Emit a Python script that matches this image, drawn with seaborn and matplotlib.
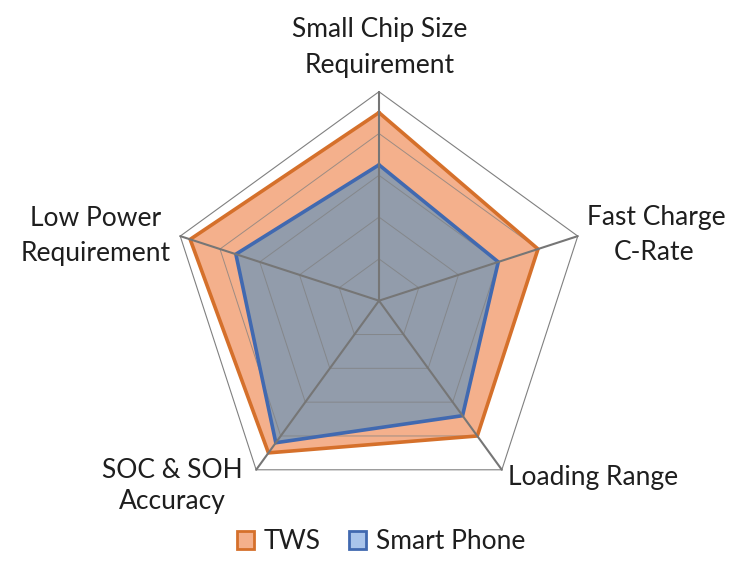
import numpy as np
import matplotlib
matplotlib.use("Agg")
import matplotlib.pyplot as plt
from matplotlib.patches import Patch
import seaborn as sns

sns.set_theme(style="white")
plt.rcParams["font.family"] = ["Lato", "DejaVu Sans"]

# data
categories = ["Small Chip Size\nRequirement", "Fast Charge\nC-Rate", "Loading Range",
              "SOC & SOH\nAccuracy", "Low Power\nRequirement"]
tws = [4.5, 4.0, 4.0, 4.5, 4.75]
smart_phone = [3.25, 3.0, 3.4, 4.2, 3.6]
ring_levels = [1, 2, 3, 4, 5]

TWS_LINE = "#D5702B"
TWS_FILL = "#F4B08C"
SP_LINE = "#4169B0"
SP_FILL = "#929CAB"
GRID = "#808080"
TEXT = "#1E1E1E"

angles = np.deg2rad(90 - 72 * np.arange(len(categories)))


def to_xy(vals):
    r = np.asarray(vals, dtype=float)
    x = r * np.cos(angles)
    y = r * np.sin(angles)
    return np.append(x, x[0]), np.append(y, y[0])


# pixel layout: centre (379, 300.7), 41.8 px per unit
PX = 41.8
CX, CY = 379, 300.7
W, H = 744, 573

fig = plt.figure(figsize=(W / 100, H / 100), dpi=100)
ax = fig.add_axes([0, 0, 1, 1])
ax.set_xlim(-CX / PX, (W - CX) / PX)
ax.set_ylim(-(H - CY) / PX, CY / PX)
ax.axis("off")


def px(x, y):
    return (x - CX) / PX, (CY - y) / PX


# fills
x, y = to_xy(tws)
ax.fill(x, y, color=TWS_FILL, zorder=1, lw=0)
x, y = to_xy(smart_phone)
ax.fill(x, y, color=SP_FILL, zorder=1.5, lw=0)

# rings
for lvl in ring_levels:
    gx, gy = to_xy([lvl] * len(categories))
    ax.plot(gx, gy, color=GRID, lw=0.8 if lvl == ring_levels[-1] else 0.7,
            alpha=1.0 if lvl == ring_levels[-1] else 0.75, zorder=2)

# outlines
for vals, col in [(tws, TWS_LINE), (smart_phone, SP_LINE)]:
    x, y = to_xy(vals)
    sns.lineplot(x=x, y=y, sort=False, estimator=None, ax=ax, color=col,
                 lw=2.6, solid_joinstyle="miter", zorder=3)

# spokes
top = ring_levels[-1]
for a in angles:
    ax.plot([0, top * np.cos(a)], [0, top * np.sin(a)], color="#767676",
            lw=1.5, zorder=4)

# category labels, one line at a time
label_pos = [
    ((380, 30), (380, 66), "center"),
    ((656, 217), (654, 253), "center"),
    ((508, 478), None, "left"),
    ((172, 470), (172, 501), "center"),
    ((96, 218), (96, 253), "center"),
]
for text, (p1, p2, ha) in zip(categories, label_pos):
    lines = text.split("\n")
    for line, p in zip(lines, [p1, p2]):
        ax.text(*px(*p), line, ha=ha, va="center", fontsize=19, color=TEXT)

handles = [
    Patch(facecolor=TWS_FILL, edgecolor=TWS_LINE, lw=2, label="TWS"),
    Patch(facecolor="#A9C4EB", edgecolor=SP_LINE, lw=2, label="Smart Phone"),
]
fig.legend(handles=handles, loc="center", bbox_to_anchor=(0.512, 0.055), ncol=2,
           frameon=False, fontsize=19, handlelength=0.65, handleheight=0.65,
           handletextpad=0.35, columnspacing=1.1, labelcolor=TEXT)

fig.savefig("out.png", dpi=100)
